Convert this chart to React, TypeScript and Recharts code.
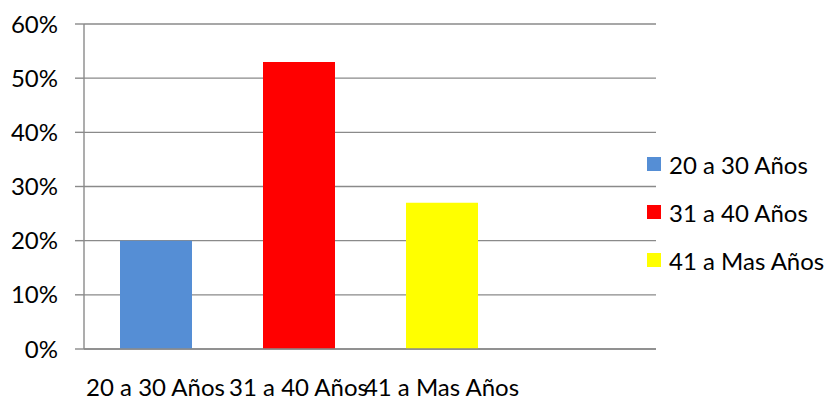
import React from "react";
import { BarChart, Bar, XAxis, YAxis, CartesianGrid, Cell } from "recharts";

const categories = ["20 a 30 Años", "31 a 40 Años", "41 a Mas Años", ""];
const values = [0.2, 0.53, 0.27, null];
const colors = ["#558ED5", "#FF0000", "#FFFF00", "#FFFFFF"];
const legendLabels = ["20 a 30 Años", "31 a 40 Años", "41 a Mas Años"];
const yTicks = [0, 0.1, 0.2, 0.3, 0.4, 0.5, 0.6];
const boundaryTicks = [0, 1, 2, 3, 4];

const data = categories.map((c, i) => ({ name: c, value: values[i] }));

const FONT = "Lato, 'Noto Sans', sans-serif";
const FS = 24;
const GRAY = "#8A8A8A";

const XTick = (props: any) => {
  const { x, y, payload } = props;
  return (
    <text x={x} y={y + 47} textAnchor="middle" fontFamily={FONT} fontSize={FS} fill="#000">
      {payload.value}
    </text>
  );
};

export default function App() {
  return (
    <div style={{ position: "absolute", left: 0, top: 0, width: 828, height: 402, background: "#fff" }}>
      <BarChart width={828} height={402} data={data} margin={{ top: 24, right: 172, bottom: 0, left: 0 }}>
        <CartesianGrid horizontal vertical={false} stroke={GRAY} strokeWidth={1.4} />
        <XAxis
          xAxisId="cat"
          dataKey="name"
          height={53}
          tickLine={false}
          tickSize={0}
          tickMargin={0}
          axisLine={{ stroke: GRAY, strokeWidth: 1.4 }}
          tick={<XTick />}
          interval={0}
        />
        <XAxis
          xAxisId="bnd"
          type="number"
          domain={[0, 4]}
          ticks={boundaryTicks}
          height={0}
          axisLine={false}
          tickFormatter={() => ""}
          tickLine={{ stroke: GRAY, strokeWidth: 1.4 }}
          tickSize={7}
        />
        <YAxis
          width={84}
          domain={[0, 0.6]}
          ticks={yTicks}
          tickFormatter={(v: number) => `${Math.round(v * 100)}%`}
          tick={{ fontFamily: FONT, fontSize: FS, fill: "#000" }}
          tickLine={{ stroke: GRAY, strokeWidth: 1.4 }}
          tickSize={9}
          tickMargin={17}
          axisLine={{ stroke: GRAY, strokeWidth: 1.4 }}
        />
        <Bar xAxisId="cat" dataKey="value" barSize={72} isAnimationActive={false}>
          {data.map((d, i) => (
            <Cell key={i} fill={colors[i]} />
          ))}
        </Bar>
      </BarChart>
      <div style={{ position: "absolute", left: 647, top: 140, fontFamily: FONT, fontSize: FS, color: "#000", whiteSpace: "nowrap" }}>
        {legendLabels.map((c, i) => (
          <div key={c} style={{ display: "flex", alignItems: "center", height: 48 }}>
            <span style={{ display: "inline-block", width: 14, height: 14, background: colors[i], marginRight: 8 }} />
            <span>{c}</span>
          </div>
        ))}
      </div>
    </div>
  );
}
